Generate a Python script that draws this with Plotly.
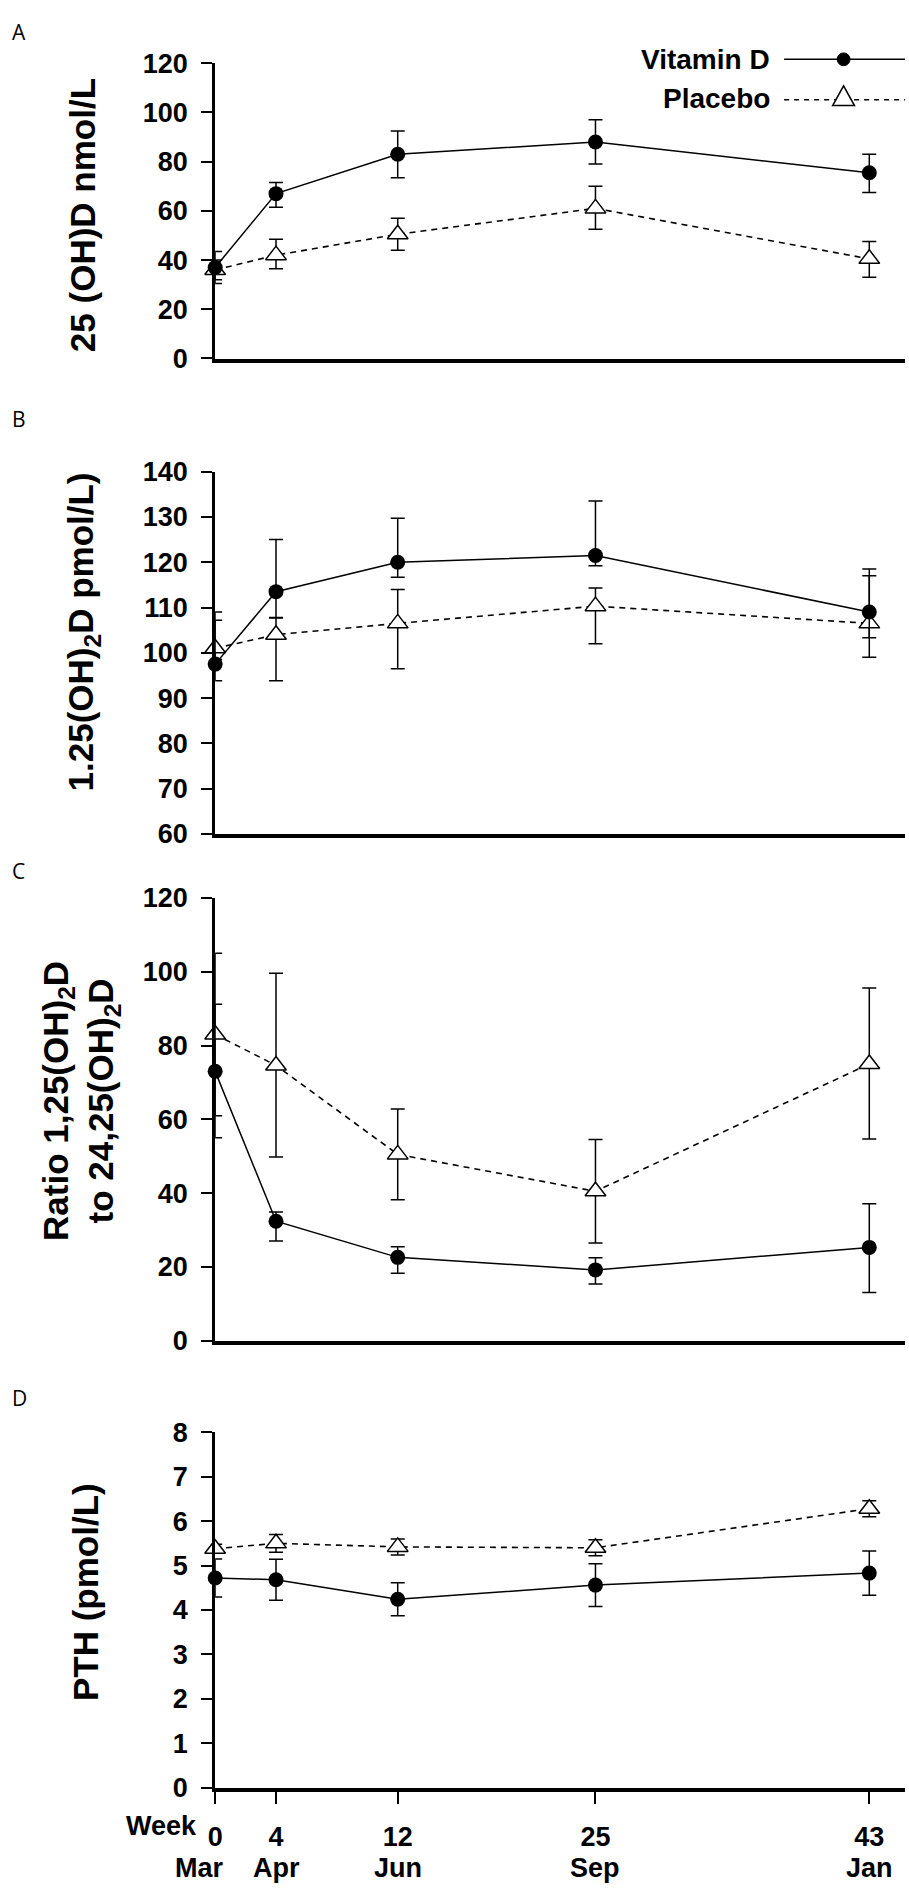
import plotly.graph_objects as go

# ---------------- data ----------------
weeks = [0, 4, 12, 25, 43]
week_labels = ["0", "4", "12", "25", "43"]
months = ["Mar", "Apr", "Jun", "Sep", "Jan"]

# Panel A: 25(OH)D nmol/L
a_vitd = [37, 67, 83, 88, 75.5]
a_vitd_plus = [6.5, 4.5, 9.5, 9, 7.5]
a_vitd_minus = [6.5, 5.5, 9.5, 9, 8]
a_plac = [36, 42, 50.5, 61, 40.5]
a_plac_plus = [4, 6.5, 6.5, 9, 7]
a_plac_minus = [4, 5.5, 6.5, 8.5, 7.5]

# Panel B: 1.25(OH)2D pmol/L
b_vitd = [97.5, 113.5, 120, 121.5, 109]
b_vitd_plus = [9.7, 11.5, 9.7, 12, 9.5]
b_vitd_minus = [3.7, 5.8, 3.3, 2.3, 5.7]
b_plac = [101, 104, 106.5, 110.3, 106.5]
b_plac_plus = [8, 3.8, 7.5, 4, 10.5]
b_plac_minus = [2.5, 10.2, 10, 8.3, 7.5]

# Panel C: ratio 1,25(OH)2D to 24,25(OH)2D
c_vitd = [73, 32.4, 22.6, 19.2, 25.3]
c_vitd_plus = [18.2, 2.5, 2.9, 3.3, 11.8]
c_vitd_minus = [18, 5.4, 4.3, 3.8, 12.2]
c_plac = [83, 74.6, 50.5, 40.5, 75]
c_plac_plus = [22, 25, 12.3, 14, 20.6]
c_plac_minus = [22, 24.8, 12.3, 14, 20.3]

# Panel D: PTH pmol/L
d_vitd = [4.72, 4.68, 4.24, 4.56, 4.83]
d_vitd_err = [0.43, 0.46, 0.37, 0.48, 0.5]
d_plac = [5.38, 5.5, 5.42, 5.4, 6.28]
d_plac_err = [0.1, 0.2, 0.18, 0.18, 0.18]

series_names = ["Vitamin D", "Placebo"]

# ---------------- layout helpers ----------------
W, H = 909, 1904
FONT = "Liberation Sans, Arial, Helvetica, sans-serif"


def px_x(x):
    return x / W


def px_y(y):
    return 1 - y / H


X_LEFT, X_RIGHT = 209, 905
panel_px = [(49, 349), (464, 832), (897, 1347), (1440, 1801)]
y_ranges = [[0, 120], [60, 140], [0, 120], [0, 8]]
y_dticks = [20, 10, 20, 1]
x_range = [0, 45.35]

panels = [
    (a_vitd, a_vitd_plus, a_vitd_minus, a_plac, a_plac_plus, a_plac_minus),
    (b_vitd, b_vitd_plus, b_vitd_minus, b_plac, b_plac_plus, b_plac_minus),
    (c_vitd, c_vitd_plus, c_vitd_minus, c_plac, c_plac_plus, c_plac_minus),
    (d_vitd, d_vitd_err, d_vitd_err, d_plac, d_plac_err, d_plac_err),
]

fig = go.Figure()

for i, (vd, vdp, vdm, pl, plp, plm) in enumerate(panels):
    n = i + 1
    xa = "x" if n == 1 else f"x{n}"
    ya = "y" if n == 1 else f"y{n}"
    # placebo
    fig.add_trace(go.Scatter(
        x=weeks, y=pl, xaxis=xa, yaxis=ya, mode="lines+markers",
        name=series_names[1], showlegend=False, cliponaxis=False,
        line=dict(color="black", width=1.6, dash="6px,5px"),
        marker=dict(symbol="triangle-up", size=18, color="white",
                    line=dict(color="black", width=1.5)),
        error_y=dict(type="data", symmetric=False, array=plp, arrayminus=plm,
                     color="black", thickness=1.5, width=7),
    ))
    # vitamin D
    fig.add_trace(go.Scatter(
        x=weeks, y=vd, xaxis=xa, yaxis=ya, mode="lines+markers",
        name=series_names[0], showlegend=False, cliponaxis=False,
        line=dict(color="black", width=1.5),
        marker=dict(symbol="circle", size=15, color="black"),
        error_y=dict(type="data", symmetric=False, array=vdp, arrayminus=vdm,
                     color="black", thickness=1.5, width=7),
    ))

tick_font = dict(family=FONT, size=27, color="black", weight="bold")

layout_axes = {}
for i in range(4):
    n = i + 1
    top, bottom = panel_px[i]
    xkey = "xaxis" if n == 1 else f"xaxis{n}"
    ykey = "yaxis" if n == 1 else f"yaxis{n}"
    yname = "y" if n == 1 else f"y{n}"
    xname = "x" if n == 1 else f"x{n}"
    is_last = n == 4
    layout_axes[xkey] = dict(
        domain=[px_x(X_LEFT), px_x(X_RIGHT)], anchor=yname, range=x_range,
        showgrid=False, zeroline=False, showline=True, linecolor="black",
        linewidth=4,
        ticks="outside" if is_last else "",
        ticklen=12, tickwidth=1.5, tickcolor="black",
        tickvals=weeks, ticktext=week_labels,
        showticklabels=is_last, tickfont=tick_font,
        ticklabelstandoff=10,
    )
    layout_axes[ykey] = dict(
        domain=[px_y(bottom), px_y(top)], anchor=xname, range=y_ranges[i],
        dtick=y_dticks[i], tick0=0, showgrid=False, zeroline=False,
        showline=True, linecolor="black", linewidth=3,
        ticks="outside", ticklen=11, tickwidth=1.5, tickcolor="black",
        tickfont=tick_font, ticklabelstandoff=8,
    )

annotations = []
# panel letters
for letter, y in zip(["A", "B", "C", "D"], [17, 410, 870, 1405]):
    annotations.append(dict(
        text=letter, xref="paper", yref="paper", x=px_x(2), y=px_y(y),
        xanchor="left", yanchor="middle", showarrow=False,
        font=dict(family="Open Sans, Noto Sans, sans-serif", size=21,
                  color="black")))

# y axis titles
titles = [
    ("25 (OH)D nmol/L", 75, 203),
    ("1.25(OH)<sub>2</sub>D pmol/L)", 76, 627),
    ("Ratio 1,25(OH)<sub>2</sub>D<br>to 24,25(OH)<sub>2</sub>D", 73, 1103),
    ("PTH (pmol/L)", 78, 1602),
]
for text, x, y in titles:
    annotations.append(dict(
        text=text, xref="paper", yref="paper", x=px_x(x), y=px_y(y),
        xanchor="center", yanchor="middle", textangle=-90, showarrow=False,
        font=dict(family=FONT, size=35, color="black", weight="bold")))

# "Week" prefix
annotations.append(dict(
    text="Week", xref="paper", yref="paper", x=px_x(193), y=px_y(1840),
    xanchor="right", yanchor="middle", showarrow=False, font=tick_font))

# month row
for k, (w, m) in enumerate(zip(weeks, months)):
    annotations.append(dict(
        text=m, xref="x4", yref="paper", x=w, y=px_y(1883),
        xanchor="center", yanchor="middle", showarrow=False,
        xshift=-16 if k == 0 else 0, font=tick_font))

# legend (text left of symbol, as in the original)
leg_font = dict(family=FONT, size=28, color="black", weight="bold")
annotations.append(dict(
    text=series_names[0], xref="paper", yref="paper", x=px_x(771), y=px_y(45),
    xanchor="right", yanchor="middle", showarrow=False, font=leg_font))
annotations.append(dict(
    text=series_names[1], xref="paper", yref="paper", x=px_x(771), y=px_y(85),
    xanchor="right", yanchor="middle", showarrow=False, font=leg_font))

shapes = [
    dict(type="line", xref="paper", yref="paper", x0=px_x(783), x1=px_x(905),
         y0=px_y(45), y1=px_y(45), line=dict(color="black", width=1.5)),
    dict(type="circle", xref="paper", yref="paper", x0=px_x(836.5),
         x1=px_x(849.5), y0=px_y(51.5), y1=px_y(38.5),
         fillcolor="black", line=dict(color="black", width=1)),
    dict(type="line", xref="paper", yref="paper", x0=px_x(783), x1=px_x(905),
         y0=px_y(86), y1=px_y(86),
         line=dict(color="black", width=1.5, dash="5px,5px")),
    dict(type="path", xref="paper", yref="paper",
         path=(f"M {px_x(832)},{px_y(92)} L {px_x(854)},{px_y(92)} "
               f"L {px_x(843)},{px_y(72)} Z"),
         fillcolor="white", line=dict(color="black", width=1.5)),
]

fig.update_layout(
    width=W, height=H, autosize=False,
    margin=dict(l=0, r=0, t=0, b=0, pad=0),
    paper_bgcolor="white", plot_bgcolor="white",
    annotations=annotations, shapes=shapes,
    **layout_axes,
)

fig.write_html("out.html", config={"displayModeBar": False},
               post_script="document.body.style.margin='0';")
